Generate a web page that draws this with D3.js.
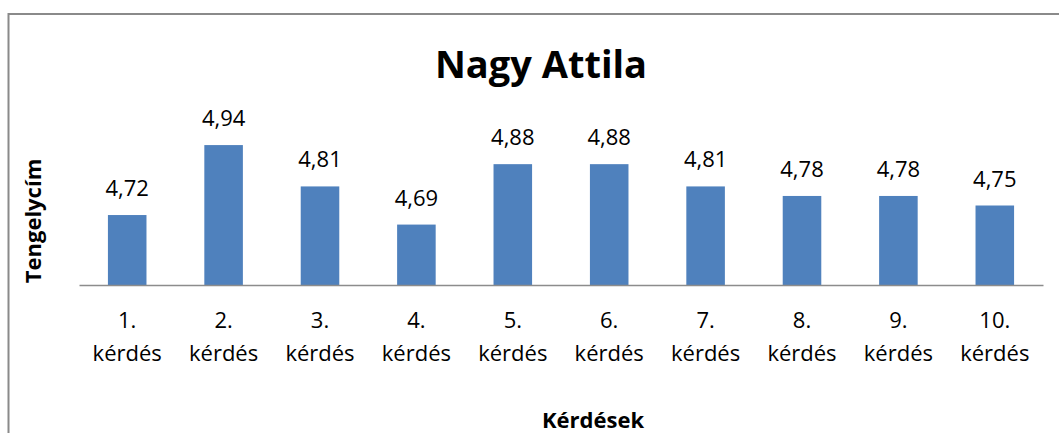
<!DOCTYPE html>
<html>
<head>
  <meta charset="utf-8">
  <title>Nagy Attila</title>
  <script src="https://d3js.org/d3.v7.min.js"></script>
  <style>
    body { margin: 0; background: #fff; }
    .canvas { background-color: white; }
    text { font-family: "Open Sans", "Noto Sans", sans-serif; fill: #000; }
    .domain { stroke: #8c8c8c; stroke-width: 1.5px; }
  </style>
</head>
<body>
<script>
  // Data
  var questions = ["1.", "2.", "3.", "4.", "5.", "6.", "7.", "8.", "9.", "10."];
  var scores = [4.72, 4.94, 4.81, 4.69, 4.88, 4.88, 4.81, 4.78, 4.78, 4.75];
  var titleText = "Nagy Attila";
  var xTitle = "Kérdések";
  var yTitle = "Tengelycím";

  var width = 1059, height = 433;
  var plot = {left: 79, right: 1043, top: 126, bottom: 285};

  var svg = d3.select("body").append("svg")
      .attr("width", width)
      .attr("height", height)
      .attr("class", "canvas");

  // chart frame (runs off the right/bottom edge)
  svg.append("rect")
      .attr("x", 8.5).attr("y", 14)
      .attr("width", 1080).attr("height", 460)
      .attr("fill", "none")
      .attr("stroke", "#8a8a8a")
      .attr("stroke-width", 2);

  var x = d3.scaleBand()
      .domain(questions)
      .range([plot.left, plot.right])
      .paddingInner(0.6)
      .paddingOuter(0.3);

  var y = d3.scaleLinear()
      .domain([4.5, 5])
      .range([plot.bottom, plot.top]);

  var data = questions.map(function(q, i) { return {q: q, v: scores[i]}; });

  // bars
  svg.selectAll(".bar")
    .data(data)
    .enter().append("rect")
      .attr("class", "bar")
      .attr("x", function(d) { return x(d.q); })
      .attr("y", function(d) { return y(d.v); })
      .attr("width", x.bandwidth())
      .attr("height", function(d) { return y(4.5) - y(d.v); })
      .attr("fill", "#4f81bd");

  // value labels
  svg.selectAll(".val")
    .data(data)
    .enter().append("text")
      .attr("class", "val")
      .attr("x", function(d) { return x(d.q) + x.bandwidth() / 2; })
      .attr("y", function(d) { return y(d.v) - 19; })
      .attr("text-anchor", "middle")
      .style("font-size", "22px")
      .text(function(d) { return d3.format(".2f")(d.v).replace(".", ","); });

  // x axis
  var xAxis = svg.append("g")
      .attr("transform", "translate(0," + plot.bottom + ")")
      .call(d3.axisBottom(x).tickSize(0).tickSizeOuter(0));
  xAxis.selectAll(".tick text").remove();
  var lbl = xAxis.selectAll(".tick").append("text")
      .attr("text-anchor", "middle")
      .style("font-size", "22px");
  lbl.append("tspan").attr("x", 0).attr("y", 43).text(function(d) { return d; });
  lbl.append("tspan").attr("x", 0).attr("y", 76).text("kérdés");

  // title
  svg.append("text")
      .attr("x", 541).attr("y", 78)
      .attr("text-anchor", "middle")
      .style("font-size", "38px")
      .style("font-weight", "bold")
      .text(titleText);

  // axis titles
  svg.append("text")
      .attr("x", 593).attr("y", 428)
      .attr("text-anchor", "middle")
      .style("font-size", "22px")
      .style("font-weight", "bold")
      .text(xTitle);

  svg.append("text")
      .attr("transform", "translate(41,221) rotate(-90)")
      .attr("text-anchor", "middle")
      .style("font-size", "22px")
      .style("font-weight", "bold")
      .text(yTitle);
</script>
</body>
</html>
